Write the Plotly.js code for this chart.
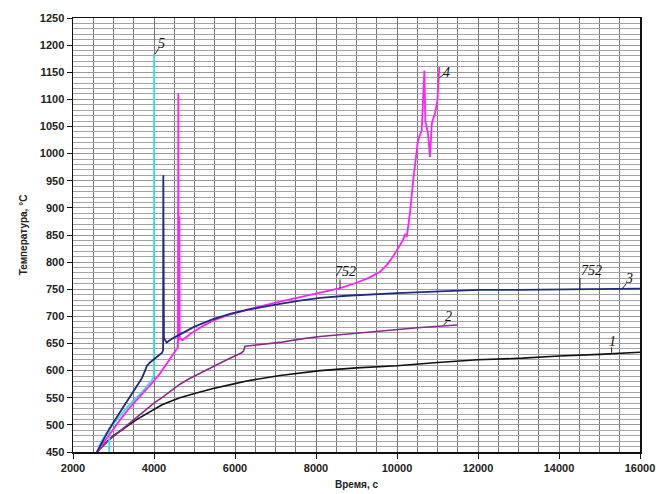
<!DOCTYPE html>
<html>
<head>
<meta charset="utf-8">
<script src="https://cdn.plot.ly/plotly-3.0.1.min.js"></script>
<style>html,body{margin:0;padding:0;background:#fff;}#chart{width:660px;height:494px;}</style>
</head>
<body>
<div id="chart"></div>
<script>
// Curve 1 (black)
const t1 = [2590, 2700, 2800, 2900, 3000, 3200, 3400, 3600, 3800, 4000, 4200, 4400, 4640, 5000, 5460, 6000, 6290, 7110, 8100, 9000, 10000, 11000, 12000, 13100, 14000, 15000, 16000];
const T1 = [450, 459, 467, 474, 480, 491, 501, 511, 520, 529, 537, 543, 550, 558, 567, 576, 581, 591, 600, 605, 609, 615, 620, 623, 627, 630, 634];
// Curve 2 (purple)
const t2 = [2590, 2800, 3000, 3200, 3400, 3600, 3800, 4000, 4230, 4450, 4640, 4890, 5200, 5460, 5800, 6165, 6210, 6247, 6600, 7110, 7600, 8100, 9000, 9580, 10500, 11480];
const T2 = [450, 466, 479, 491, 503, 516, 528, 540, 552, 564, 575, 586, 598, 608, 620, 633, 636, 645, 648, 652, 658, 663, 669, 673, 679, 684];
// Curve 3 (dark blue)
const t3 = [2590, 2700, 2800, 2900, 3000, 3200, 3400, 3550, 3700, 3780, 3820, 3900, 3950, 4100, 4200, 4225, 4230, 4238, 4245, 4313, 4450, 4640, 5000, 5460, 5900, 6290, 6700, 7110, 7600, 8100, 8760, 9400, 10000, 11060, 12050, 13000, 14025, 15000, 16000];
const T3 = [450, 466, 480, 493, 505, 528, 549, 567, 586, 600, 608, 615, 618, 627, 633, 638, 960, 800, 660, 652, 659, 667, 681, 695, 705, 712, 718, 723, 729, 734, 738, 741, 743, 746, 749, 749, 750, 751, 751];
// Curve 4 (magenta)
const t4 = [2590, 2800, 3000, 3200, 3400, 3600, 3800, 3950, 4150, 4300, 4480, 4590, 4600, 4610, 4625, 4635, 4700, 4900, 5200, 5460, 5800, 6290, 6700, 7110, 7600, 8100, 8600, 9000, 9300, 9580, 9750, 9900, 10050, 10150, 10200, 10240, 10280, 10320, 10400, 10460, 10520, 10610, 10675, 10700, 10760, 10815, 10860, 10940, 11000, 11045];
const T4 = [450, 472, 492, 513, 532, 548, 565, 577, 595, 612, 632, 643, 1111, 655, 884, 660, 656, 668, 682, 692, 702, 712, 720, 727, 735, 743, 752, 762, 771, 782, 795, 810, 828, 841, 852, 846, 868, 890, 951, 985, 1025, 1043, 1153, 1060, 1040, 994, 1056, 1075, 1099, 1160];
// Curve 5 (cyan)
const t5 = [2893, 2897, null, 2620, 2800, 3000, 3200, 3400, 3700, 3950, 4000, 4003];
const T5 = [450, 495, null, 458, 482, 502, 520, 538, 560, 582, 592, 1183];

const xTicks = [2000, 4000, 6000, 8000, 10000, 12000, 14000, 16000];
const yTicks = [450, 500, 550, 600, 650, 700, 750, 800, 850, 900, 950, 1000, 1050, 1100, 1150, 1200, 1250];

function tr(x, y, color, w) {
  return {x: x, y: y, type: 'scatter', mode: 'lines', line: {color: color, width: w}, connectgaps: false, hoverinfo: 'skip', showlegend: false};
}
const data = [
  tr(t1, T1, '#111111', 1.6),
  tr(t2, T2, '#8a2a8a', 1.6),
  tr(t5, T5, '#33e0e6', 1.8),
  tr(t4, T4, '#ff22ff', 1.8),
  tr(t3, T3, '#1f2a80', 1.8)
];

const lbl = {family: 'Liberation Serif, Times New Roman, serif', size: 14, color: '#111', style: 'italic'};
function ann(x, y, text) {
  return {x: x, y: y, xref: 'x', yref: 'y', text: text, showarrow: false, font: lbl, xanchor: 'center', yanchor: 'middle'};
}
function lead(x0, y0, x1, y1) {
  return {type: 'line', xref: 'x', yref: 'y', x0: x0, y0: y0, x1: x1, y1: y1, line: {color: '#222', width: 1}};
}

const layout = {
  width: 660, height: 494,
  margin: {l: 73, r: 20, t: 18, b: 42},
  paper_bgcolor: '#fff', plot_bgcolor: '#fff',
  font: {family: 'Liberation Sans, Arial, sans-serif', color: '#222'},
  xaxis: {
    range: [2000, 16000], tickvals: xTicks, ticktext: xTicks.map(String),
    showgrid: true, gridcolor: '#777777', gridwidth: 1,
    minor: {dtick: 500, showgrid: true, gridcolor: '#777777', gridwidth: 1},
    showline: true, mirror: true, linecolor: '#111', linewidth: 1.5,
    ticks: 'outside', ticklen: 5, tickcolor: '#111',
    tickfont: {size: 11, weight: 'bold', color: '#222'},
    zeroline: false,
    title: {text: 'Время, с', font: {size: 10, weight: 'bold', color: '#222'}, standoff: 8}
  },
  yaxis: {
    range: [450, 1250], tickvals: yTicks, ticktext: yTicks.map(String),
    showgrid: true, gridcolor: '#999999', gridwidth: 1,
    minor: {dtick: 10, showgrid: true, gridcolor: '#a4a4a4', gridwidth: 1},
    showline: true, mirror: true, linecolor: '#111', linewidth: 1.5,
    ticks: 'outside', ticklen: 5, tickcolor: '#111',
    tickfont: {size: 11, weight: 'bold', color: '#222'},
    zeroline: false,
    title: {text: 'Температура, °С', font: {size: 10, weight: 'bold', color: '#222'}, standoff: 10}
  },
  shapes: [
    lead(15300, 633, 15300, 643),
    lead(11150, 684, 11230, 690),
    lead(15560, 751, 15660, 760),
    lead(11050, 1140, 11150, 1146),
    lead(4020, 1183, 4120, 1194),
    lead(8593, 752, 8593, 768),
    lead(14518, 750, 14518, 771)
  ],
  annotations: [
    ann(15330, 653, '1'),
    ann(11270, 699, '2'),
    ann(15720, 769, '3'),
    ann(11225, 1150, '4'),
    ann(4190, 1203, '5'),
    ann(8740, 783, '752'),
    ann(14810, 784, '752')
  ]
};

Plotly.newPlot('chart', data, layout, {displayModeBar: false, staticPlot: true});
</script>
</body>
</html>
